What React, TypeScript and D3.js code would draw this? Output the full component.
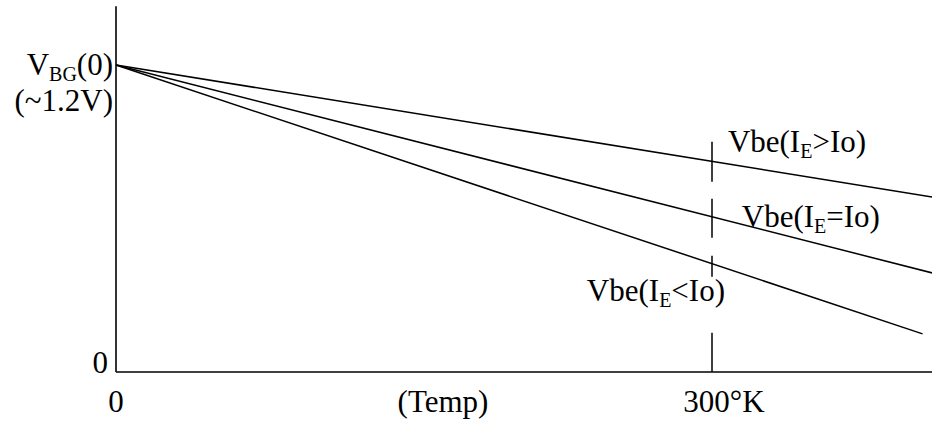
import * as d3 from 'd3';

// Bandgap reference: Vbe vs temperature, three emitter currents
const seriesLabels = ['>', '=', '<'];
const startTemp = 0;
const vbg0 = 1.2;
const endTemps = [411, 411, 406];
const endVolts = [0.684, 0.387, 0.149];
const labelTemps = [308, 315, 237];
const labelVolts = [0.86, 0.565, 0.278];

const refTemp = 300;
const refTop = 0.9;
const tMax = 411;
const vMax = 1.43;

const W = 932;
const H = 423;
const FONT = '"Liberation Serif", "Times New Roman", serif';
const FS = 31;
const SUB = 20;

export default function App() {
  const x = d3.scaleLinear().domain([0, refTemp]).range([116, 712]);
  const y = d3.scaleLinear().domain([0, vbg0]).range([372, 65]);

  const line = d3.line<[number, number]>()
    .x(d => x(d[0]))
    .y(d => y(d[1]));

  return (
    <div style={{ position: 'absolute', left: 0, top: 0 }}>
      <svg width={W} height={H} style={{ display: 'block', background: '#fff' }} fontFamily={FONT}>
        {/* axes */}
        <line x1={x(0)} x2={x(0)} y1={y(0)} y2={y(vMax)} stroke="#000" strokeWidth={1.6} />
        <line x1={x(0)} x2={x(tMax)} y1={y(0)} y2={y(0)} stroke="#000" strokeWidth={1.6} />

        {/* 300K marker */}
        <line x1={x(refTemp)} x2={x(refTemp)} y1={y(refTop)} y2={y(0)}
          stroke="#000" strokeWidth={1.5} strokeDasharray="40 17 39 18 21 56 39" />

        {/* Vbe lines */}
        {endTemps.map((t, i) => (
          <path key={i} d={line([[startTemp, vbg0], [t, endVolts[i]]]) || ''}
            fill="none" stroke="#000" strokeWidth={1.5} />
        ))}

        {/* line labels */}
        {seriesLabels.map((op, i) => (
          <text key={op} x={x(labelTemps[i])} y={y(labelVolts[i])} fontSize={FS} fill="#000">
            Vbe(I<tspan fontSize={SUB} dy={6}>E</tspan><tspan dy={-6}>{op}Io)</tspan>
          </text>
        ))}

        {/* y labels */}
        <text x={113} y={y(vbg0) + 10} fontSize={FS} textAnchor="end">
          V<tspan fontSize={SUB} dy={6}>BG</tspan><tspan dy={-6}>(0)</tspan>
        </text>
        <text x={113} y={y(vbg0) + 46} fontSize={FS} textAnchor="end">(~1.2V)</text>
        <text x={108} y={y(0) + 1} fontSize={FS} textAnchor="end">0</text>

        {/* x labels */}
        <text x={x(0)} y={412} fontSize={FS} textAnchor="middle">0</text>
        <text x={443} y={412} fontSize={FS} textAnchor="middle">(Temp)</text>
        <text x={x(refTemp) + 12} y={412} fontSize={FS} textAnchor="middle">300°K</text>
      </svg>
    </div>
  );
}
